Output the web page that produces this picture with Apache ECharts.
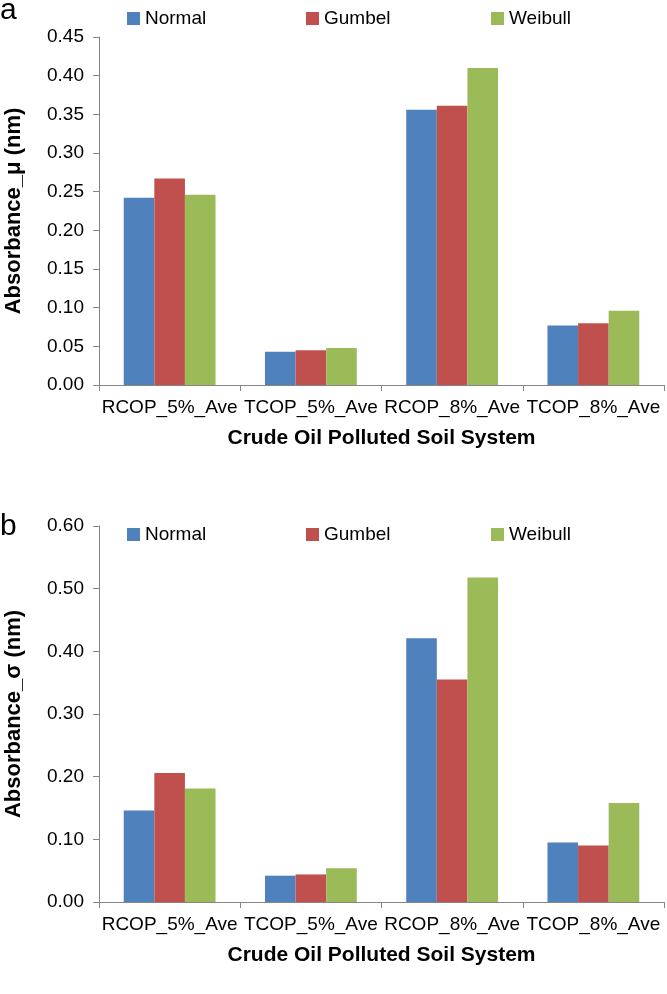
<!DOCTYPE html>
<html>
<head>
<meta charset="utf-8">
<script src="https://cdn.jsdelivr.net/npm/echarts@6/dist/echarts.min.js"></script>
<style>
  html, body { margin: 0; padding: 0; background: #fff; }
  #chart { width: 667px; height: 994px; }
</style>
</head>
<body>
<div id="chart"></div>
<script>
// categories and series values
const categories = ['RCOP_5%_Ave', 'TCOP_5%_Ave', 'RCOP_8%_Ave', 'TCOP_8%_Ave']
const seriesNames = ['Normal', 'Gumbel', 'Weibull']

// panel a: mean
const muNormal = [0.242, 0.043, 0.356, 0.077]
const muGumbel = [0.267, 0.045, 0.361, 0.080]
const muWeibull = [0.246, 0.048, 0.410, 0.096]

// panel b: sigma
const sigmaNormal = [0.146, 0.042, 0.421, 0.095]
const sigmaGumbel = [0.206, 0.044, 0.355, 0.090]
const sigmaWeibull = [0.181, 0.054, 0.518, 0.158]

const colors = ['#4f81bd', '#c0504d', '#9bbb59']
const font = '"Liberation Sans", sans-serif'
const axisGray = '#868686'

const chart = echarts.init(document.getElementById('chart'))

function xAxis(gridIndex) {
  return {
    type: 'category', gridIndex, data: categories,
    name: 'Crude Oil Polluted Soil System', nameLocation: 'middle', nameGap: 43,
    nameTextStyle: { fontFamily: font, fontWeight: 'bold', fontSize: 21, color: '#000' },
    axisLine: { lineStyle: { color: axisGray } },
    axisTick: { show: true, length: 6, lineStyle: { color: axisGray } },
    axisLabel: { fontFamily: font, fontSize: 19, color: '#000', margin: 13, interval: 0 },
  }
}

function yAxis(gridIndex, max, interval, title) {
  return {
    type: 'value', gridIndex, min: 0, max, interval,
    name: title, nameLocation: 'middle', nameGap: 74,
    nameTextStyle: { fontFamily: font, fontWeight: 'bold', fontSize: 22, color: '#000' },
    axisLine: { show: true, lineStyle: { color: axisGray } },
    axisTick: { show: true, length: 6, lineStyle: { color: axisGray } },
    axisLabel: { fontFamily: font, fontSize: 19, color: '#000', margin: 15, formatter: v => v.toFixed(2) },
    splitLine: { show: false },
  }
}

function bars(values, i, gridIndex) {
  return {
    type: 'bar', name: seriesNames[i], data: values,
    xAxisIndex: gridIndex, yAxisIndex: gridIndex,
    barGap: '0%', barCategoryGap: '35%',
    itemStyle: { color: colors[i] },
    silent: true,
  }
}

// one legend per item so the spacing follows the reference
const legendX = [122, 301, 486]
function legends(top) {
  return seriesNames.map((n, i) => ({
    data: [n], left: legendX[i], top,
    itemWidth: 13, itemHeight: 13, itemGap: 5, icon: 'rect',
    textStyle: { fontFamily: font, fontSize: 19, color: '#000' },
    selectedMode: false,
  }))
}

chart.setOption({
  animation: false,
  graphic: [
    { type: 'text', left: 0, top: -4, style: { text: 'a', fontFamily: 'Liberation Sans, sans-serif', fontSize: 30, fill: '#000' } },
    { type: 'text', left: 0, top: 512, style: { text: 'b', fontFamily: 'Liberation Sans, sans-serif', fontSize: 30, fill: '#000' } },
  ],
  legend: [...legends(4), ...legends(520)],
  grid: [
    { left: 99, right: 3, top: 37, height: 348, outerBoundsMode: 'none' },
    { left: 99, right: 3, top: 526, height: 376, outerBoundsMode: 'none' },
  ],
  xAxis: [xAxis(0), xAxis(1)],
  yAxis: [
    yAxis(0, 0.45, 0.05, 'Absorbance_μ (nm)'),
    yAxis(1, 0.6, 0.1, 'Absorbance_σ (nm)'),
  ],
  series: [
    bars(muNormal, 0, 0), bars(muGumbel, 1, 0), bars(muWeibull, 2, 0),
    bars(sigmaNormal, 0, 1), bars(sigmaGumbel, 1, 1), bars(sigmaWeibull, 2, 1),
  ],
})
</script>
</body>
</html>
